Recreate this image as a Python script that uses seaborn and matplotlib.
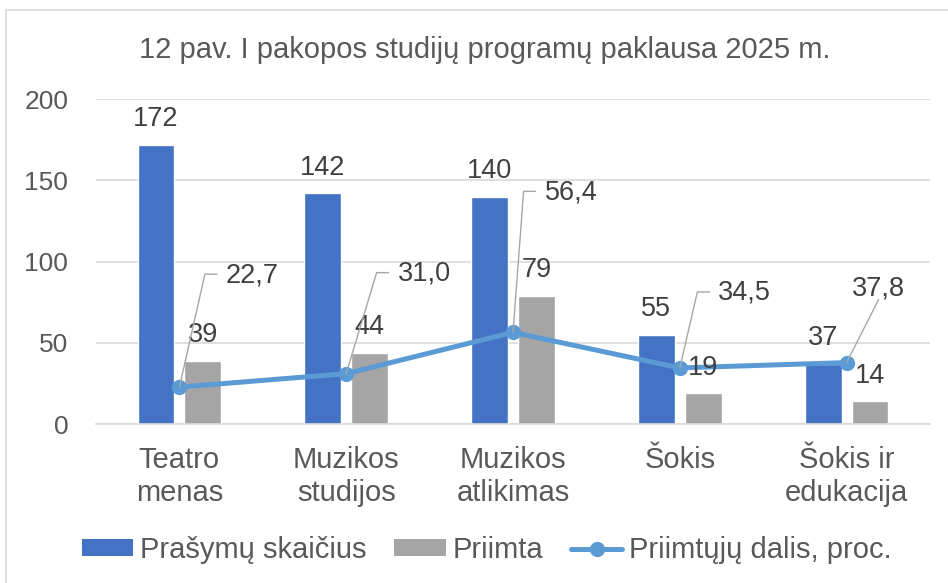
import numpy as np
import pandas as pd
import matplotlib
matplotlib.use("Agg")
import matplotlib.pyplot as plt
import seaborn as sns
from matplotlib.patches import Patch, Rectangle
from matplotlib.lines import Line2D

# ---- data ----
categories = ["Teatro\nmenas", "Muzikos\nstudijos", "Muzikos\natlikimas", "Šokis", "Šokis ir\nedukacija"]
applications = [172, 142, 140, 55, 37]          # Prašymų skaičius
admitted = [39, 44, 79, 19, 14]                 # Priimta
admitted_share = [22.7, 31.0, 56.4, 34.5, 37.8] # Priimtųjų dalis, proc.
series_names = ["Prašymų skaičius", "Priimta", "Priimtųjų dalis, proc."]
y_ticks = [0, 50, 100, 150, 200]
title = "12 pav. I pakopos studijų programų paklausa 2025 m."

# ---- style ----
BLUE = "#4472C4"
GRAY = "#A5A5A5"
LINE = "#5B9BD5"
TXT = "#404040"
AX_TXT = "#595959"
GRID = "#D9D9D9"
LEADER = "#A6A6A6"

# label offsets for the line values (pixels, relative to point) and leader style
share_label_offsets = [(73, 112), (78, 100), (58, 140), (65, 75), (32, 74)]
share_leader_style = ["side", "side", "side", "side", "below"]

sns.set_theme(style="white")
plt.rcParams["font.family"] = ["Liberation Sans", "DejaVu Sans"]

W, H, DPI = 948, 583, 100
fig = plt.figure(figsize=(W / DPI, H / DPI), dpi=DPI)
ax = fig.add_axes([96 / W, (H - 424) / H, 834 / W, 325 / H])

df = pd.DataFrame({
    "cat": categories * 2,
    "value": applications + admitted,
    "series": [series_names[0]] * len(categories) + [series_names[1]] * len(categories),
})

sns.barplot(data=df, x="cat", y="value", hue="series", order=categories,
            hue_order=series_names[:2], palette=[BLUE, GRAY], width=0.56, gap=0.214,
            saturation=1, legend=False, ax=ax, err_kws={"linewidth": 0})

for cont in ax.containers:
    labels = ax.bar_label(cont, fmt="%d", padding=9, fontsize=19.5, color=TXT)
    for t in labels:
        t.set_zorder(8)

xpos = np.arange(len(categories))
sns.lineplot(x=xpos, y=admitted_share, color=LINE, linewidth=3.6, marker="o",
             markersize=11, markeredgewidth=0, ax=ax, legend=False, zorder=5)

ax.set_xlim(-0.5, len(categories) - 0.5)
ax.set_ylim(0, 200)
ax.set_yticks(y_ticks)
ax.set_xticks(xpos)
ax.set_xticklabels(categories)
ax.set_xlabel("")
ax.set_ylabel("")
ax.grid(axis="y", color=GRID, linewidth=1.2)
ax.set_axisbelow(True)
for s in ["top", "right", "left"]:
    ax.spines[s].set_visible(False)
ax.spines["bottom"].set_color(GRID)
ax.spines["bottom"].set_linewidth(1.2)
ax.tick_params(axis="y", length=0, pad=20, labelsize=19, labelcolor=AX_TXT)
ax.tick_params(axis="x", length=0, pad=16, labelsize=21, labelcolor=AX_TXT)

# line value labels with leader lines
fig.canvas.draw()
renderer = fig.canvas.get_renderer()
inv = fig.transFigure.inverted()
for i, (v, (dx, dy), style) in enumerate(zip(admitted_share, share_label_offsets, share_leader_style)):
    px, py = ax.transData.transform((i, v))
    lab = f"{v:.1f}".replace(".", ",")
    t = fig.text(*inv.transform((px + dx, py + dy)), lab, ha="center", va="center",
                 fontsize=19.5, color=TXT, zorder=8)
    bb = t.get_window_extent(renderer)
    if style == "side":
        yy = py + dy + 1
        x1 = bb.x0 - 9
        x0 = x1 - 12
        pts = [(px, py), (x0, yy), (x1, yy)]
    else:
        pts = [(px, py), (px + dx, bb.y0 + 2)]
    fp = inv.transform(pts)
    fig.add_artist(Line2D(fp[:, 0], fp[:, 1], color=LEADER, linewidth=1.0, zorder=7))

# title
fig.text(485 / W, 1 - 50 / H, title, ha="center", va="center", fontsize=21, color=AX_TXT)

# legend
handles = [Patch(facecolor=BLUE, edgecolor="none"),
           Patch(facecolor=GRAY, edgecolor="none"),
           Line2D([0], [0], color=LINE, linewidth=3.6, marker="o", markersize=11, markeredgewidth=0)]
fig.legend(handles, series_names, loc="center", bbox_to_anchor=(487 / W, 1 - 550 / H),
           ncol=3, frameon=False, fontsize=21, labelcolor=AX_TXT, handlelength=1.75,
           handleheight=0.5, handletextpad=0.25, columnspacing=0.95, borderaxespad=0)

# chart border
fig.add_artist(Rectangle((6 / W, -0.05), 1.2, 1 - 10 / H + 0.05, transform=fig.transFigure,
                         fill=False, edgecolor=GRID, linewidth=1.2))

fig.savefig("out.png", dpi=DPI)
